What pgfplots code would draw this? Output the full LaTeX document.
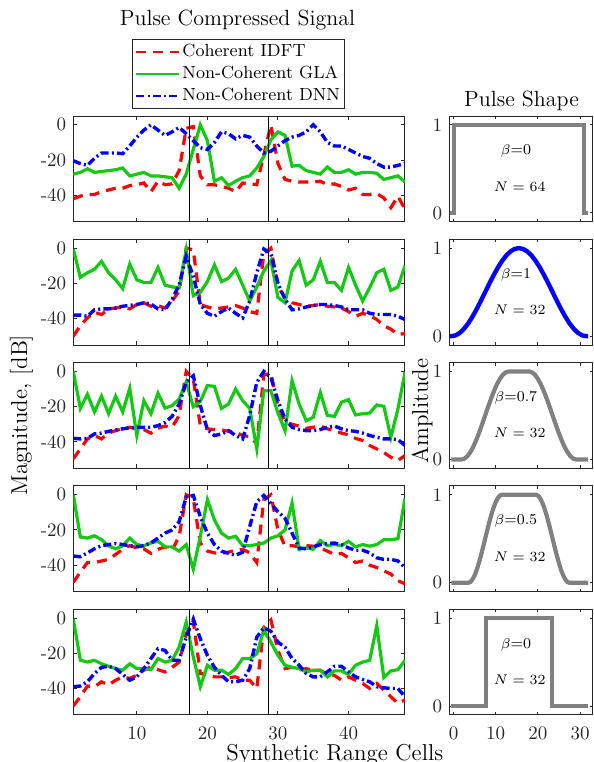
\documentclass[border=0pt]{standalone}
\usepackage{pgfplots}
\usepackage{pgfplotstable}
\pgfplotsset{compat=1.18}
\definecolor{mred}{RGB}{255,0,0}
\definecolor{mgreen}{RGB}{20,200,20}
\definecolor{mblue}{RGB}{0,0,255}
\definecolor{mgray}{RGB}{128,128,128}
\definecolor{axgray}{RGB}{38,38,38}

% columns: cell, coherent IDFT, non-coherent GLA, non-coherent DNN (dB)
\pgfplotstableread{
n idft gla dnn
1 -42 -28 -20.4
2 -40.5 -27 -22
3 -39.5 -25 -23
4 -39.5 -27 -19
5 -38 -26.5 -16
6 -37 -26 -16
7 -36 -25.5 -16
8 -36 -24.5 -16.4
9 -34.5 -29 -12
10 -34 -28 -7
11 -33 -27 -3
12 -38 -29 0
13 -32 -29 -3
14 -34 -29.5 -6
15 -33.5 -30 -4
16 -26 -36 -1.5
17 -2 -28 -5
18 -1 -14 -9
19 -29 0 -13
20 -34 -9 -14
21 -34 -32 -10
22 -35 -30 -4
23 -36 -34.5 -5
24 -38 -32 -8
25 -33 -30 -6
26 -33.5 -29 -7
27 -34 -24.5 -12
28 -17 -18 -16
29 0 -8.5 -15
30 -22 -4 -12
31 -31 -6 -9
32 -32 -23.5 -7
33 -32.5 -23 -6
34 -32.5 -26 -4
35 -32.5 -27 0
36 -32 -28 -4
37 -34 -24 -10
38 -33.5 -27 -12
39 -35 -27 -12
40 -37 -25.5 -14
41 -36 -28 -16
42 -39.5 -27 -18
43 -39.5 -27 -19
44 -39 -27.5 -22
45 -41.5 -31 -24
46 -47 -30 -24
47 -40.5 -29 -23
48 -48 -32.5 -22
}\sigA

\pgfplotstableread{
n idft gla dnn
1 -50 -0.5 -38
2 -44 -16.6 -38
3 -39.6 -14 -38.7
4 -36.4 -12 -35
5 -37.7 -7.5 -34.5
6 -34.5 -14 -34.5
7 -34 -18 -34
8 -33.4 -23 -33
9 -34.5 -9 -32.5
10 -32 -18 -32
11 -31 -19.5 -31
12 -33 -19.5 -31.7
13 -32.6 -11 -34.5
14 -34 -21 -35
15 -30 -22 -29
16 -24.5 -22.5 -21
17 0 -1 -4.7
18 -1 -27 -16
19 -32 -25 -32
20 -33.4 -19 -37
21 -34.5 -9.5 -38.7
22 -34 -19 -36
23 -33.4 -17 -34
24 -32.6 -12 -37
25 -34 -21 -39.6
26 -36 -30 -30
27 -37 -22 -14
28 -3 -13 -0.5
29 0 -7 -3
30 -22 -28 -20
31 -28 -31 -29
32 -31 -13 -35
33 -32 -7 -34.5
34 -33 -21 -33.4
35 -32.6 -18 -32.6
36 -32 -7.5 -32
37 -33 -19.5 -32
38 -33.4 -19.5 -32.6
39 -34 -24 -33.4
40 -36 -11 -35
41 -38.7 -21 -35
42 -37 -30 -35
43 -38.3 -22.5 -37
44 -40.5 -14 -37.7
45 -44 -12 -37.7
46 -46 -24 -37.7
47 -49 -22 -38.7
48 -48.5 -10 -40.5
}\sigB

\pgfplotstableread{
n idft gla dnn
1 -49.6 0 -38
2 -44 -21 -38.3
3 -38.3 -13 -38
4 -36.4 -23 -35.5
5 -38.3 -14 -35
6 -35 -24 -34
7 -33.6 -14 -33.2
8 -32.6 -23 -32.6
9 -31.7 -9.6 -32
10 -32.6 -36.4 -31.7
11 -33 -16.6 -31.7
12 -35 -24 -31.7
13 -32.3 -12.3 -30.8
14 -31 -20.8 -29
15 -31.7 -19.4 -25.5
16 -25 -15.7 -18.5
17 0 -6 -6.2
18 -4.3 -20 -2.5
19 -30.8 -17 -19.4
20 -32.6 -8 -33
21 -33 -8.5 -36.4
22 -33.2 -21 -35.5
23 -34 -18.5 -33.6
24 -34.5 -10 -36.4
25 -36.4 -16.6 -38.3
26 -37 -21 -25
27 -41 -44 -6.2
28 -2 -11 0
29 -1 -11 -3.4
30 -20 -23.6 -16.6
31 -28.6 -33.6 -27
32 -30 -5.3 -31.7
33 -31 -18.5 -33
34 -32.3 -28 -33.6
35 -31.7 -26 -33.6
36 -31 -12 -33
37 -32.6 -25 -31.7
38 -33.6 -25.5 -31
39 -35 -17.5 -32.6
40 -36 -16 -33.6
41 -38 -24.7 -34
42 -39.2 -24 -35
43 -42 -23.6 -36.4
44 -44 -19 -37.4
45 -46 -19.8 -38.3
46 -48.7 -37.4 -38.3
47 -50.6 -21.3 -38.7
48 -47.7 -0.5 -42
}\sigC

\pgfplotstableread{
n idft gla dnn
1 -49.7 0 -34.8
2 -44 -24 -35.2
3 -38.5 -24.6 -33
4 -38.5 -23.3 -30.7
5 -37.6 -25.5 -28.9
6 -36.7 -29 -28.3
7 -33.9 -30.7 -27.7
8 -31 -29 -28.3
9 -28.9 -24.6 -28.9
10 -30.2 -28.3 -29.6
11 -30.7 -29 -28.9
12 -33.3 -27.4 -27.4
13 -31 -26.4 -24.6
14 -29.6 -29.6 -21.8
15 -31.5 -29.6 -20
16 -23.6 -32 -15.3
17 0 -28.3 -1.3
18 -2.2 -42.3 -0.4
19 -27.4 -23.6 -12.5
20 -32 -2.8 -21.8
21 -33 -14.3 -28.3
22 -33.3 -21.8 -32
23 -32.6 -24.6 -33.3
24 -31.5 -23.6 -34.4
25 -31 -28.9 -32.6
26 -33 -28.9 -18
27 -38.5 -28.3 -4
28 -2.8 -27.4 -0.4
29 0 -24.6 -5
30 -20 -23.3 -9.7
31 -29.2 -20 -13.4
32 -28.9 -4.7 -21.8
33 -29.6 -31 -30.2
34 -28.9 -30.2 -30.7
35 -29.2 -31 -29.6
36 -30.2 -26 -28.3
37 -32 -28.9 -27.7
38 -33.9 -28.3 -27.4
39 -33.3 -28.9 -28.3
40 -35.8 -26.4 -30.2
41 -38.5 -29.6 -31.5
42 -37.6 -28.3 -31.5
43 -40 -29.2 -33
44 -41.3 -28.3 -35.8
45 -43.2 -25.5 -36.7
46 -45 -25.5 -36.7
47 -48.8 -25 -37.6
48 -50.6 -2.2 -41.3
}\sigD

\pgfplotstableread{
n idft gla dnn
1 -49.9 -0.5 -39
2 -44.7 -24 -38.6
3 -38.6 -25 -36.2
4 -39 -24 -31.5
5 -36.2 -26 -28
6 -38 -27.4 -27.4
7 -35.3 -28.7 -28.7
8 -33.4 -29.6 -32
9 -34.3 -26 -35.3
10 -32.5 -28.7 -33.4
11 -29.6 -28.7 -28.7
12 -27.8 -29.3 -23
13 -29.3 -23 -17.4
14 -30.6 -25 -18.4
15 -28 -24 -24
16 -25 -16.5 -24
17 -9 -2.4 -10.9
18 -1.5 -22 -0.6
19 -31.5 -39 -11.8
20 -32 -26.8 -21.2
21 -33.4 -29.6 -28
22 -33.4 -29.6 -32.5
23 -33.8 -32 -36.2
24 -33.4 -28.7 -36.2
25 -35.3 -23 -35.3
26 -35.3 -23 -28.7
27 -40 -20.3 -10.9
28 -5.3 -6.8 -5.6
29 -1.1 -13.7 -7.5
30 -18.4 -21.2 -13.7
31 -28.7 -26.8 -16.5
32 -28 -28 -23
33 -29.6 -28.7 -26.8
34 -28.7 -30.6 -31.5
35 -30 -29.6 -33.4
36 -29.6 -29.6 -33.4
37 -32 -33.4 -30.6
38 -32.5 -30 -27.4
39 -35.3 -30 -27.4
40 -33.4 -32 -30.6
41 -35.3 -26.8 -33.4
42 -37.1 -25 -34.9
43 -40 -24 -36.2
44 -37.1 -4.3 -39
45 -40.9 -33.8 -39.6
46 -44.7 -30 -40
47 -48.4 -29.3 -40
48 -46.5 -24 -44.7
}\sigE

\pgfplotsset{
  sigax/.style={
    scale only axis, width=165.85pt, height=52.85pt,
    xmin=1, xmax=48, ymin=-55, ymax=5,
    xtick={10,20,30,40}, xticklabels={},
    ytick={-40,-20,0}, yticklabels={{-40},{-20},{0}},
    tick align=inside, major tick length=2pt,
    axis line style={axgray, line width=0.5pt},
    every tick/.style={axgray, line width=0.5pt},
    tick label style={font=\fontsize{9.5}{11}\selectfont, text=axgray},
    xticklabel style={yshift=-2.5pt},
  },
  shpax/.style={
    scale only axis, width=71.7pt, height=52.85pt,
    xmin=-1, xmax=33, ymin=-0.1, ymax=1.1,
    xtick={0,10,20,30}, xticklabels={},
    ytick={0,1}, yticklabels={0,1},
    tick align=inside, major tick length=1.5pt,
    axis line style={axgray, line width=0.5pt},
    every tick/.style={axgray, line width=0.5pt},
    tick label style={font=\fontsize{9.5}{11}\selectfont, text=axgray},
    xticklabel style={yshift=-2.5pt},
  },
  idft/.style={mred, line width=1.6pt, dash pattern=on 5pt off 3.5pt},
  gla/.style={mgreen, line width=1.6pt},
  dnn/.style={mblue, line width=1.7pt, dash pattern=on 4pt off 1.6pt on 1pt off 1.6pt},
  cut/.style={black, line width=0.5pt, forget plot},
  pulse/.style={mgray, line width=2.1pt},
}
\newcommand{\ann}[2]{%
  \node[font=\fontsize{7.5}{9}\selectfont] at (axis cs:14.8,0.7) {$\beta$=#1};
  \node[font=\fontsize{7.5}{9}\selectfont] at (axis cs:15.7,0.3) {$N = #2$};}

\begin{document}
\begin{tikzpicture}
\useasboundingbox (0,0) rectangle (297pt,-381pt);

\node[anchor=base, font=\fontsize{11}{13}\selectfont] at (118.75pt,-12.5pt) {Pulse Compressed Signal};
\node[anchor=base, font=\fontsize{11}{13}\selectfont] at (260.75pt,-53pt) {Pulse Shape};
\node[anchor=base, rotate=90, font=\fontsize{11.5}{13}\selectfont] at (13.5pt,-207.5pt) {Magnitude, [dB]};
\node[anchor=base, rotate=90, font=\fontsize{11.5}{13}\selectfont] at (214pt,-205.5pt) {Amplitude};
\node[anchor=base, font=\fontsize{11.5}{13}\selectfont] at (167.35pt,-380pt) {Synthetic Range Cells};

% ---- pulse compressed signals ----
\begin{axis}[sigax, at={(36.65pt,-58pt)}, anchor=north west,
  legend style={at={(0.4985,1.063)}, anchor=south, draw=axgray, line width=0.5pt,
    fill=white, font=\fontsize{8.8}{10}\selectfont, inner xsep=1.3pt, inner ysep=1pt,
    row sep=0.2pt, nodes={inner sep=1pt, text height=6.6pt, text depth=2.2pt},
    cells={anchor=west}},
  legend image code/.code={\draw[#1, line width=1.1pt] (0pt,0pt) -- (21.5pt,0pt);}]
\addplot[idft] table[x=n, y=idft] {\sigA};
\addplot[gla] table[x=n, y=gla] {\sigA};
\addplot[dnn] table[x=n, y=dnn] {\sigA};
\addplot[cut] coordinates {(17.45,-55) (17.45,5)};
\addplot[cut] coordinates {(28.65,-55) (28.65,5)};
\legend{Coherent IDFT, Non-Coherent GLA, Non-Coherent DNN}
\end{axis}

\begin{axis}[sigax, at={(36.65pt,-119.65pt)}, anchor=north west]
\addplot[idft] table[x=n, y=idft] {\sigB};
\addplot[gla] table[x=n, y=gla] {\sigB};
\addplot[dnn] table[x=n, y=dnn] {\sigB};
\addplot[cut] coordinates {(17.45,-55) (17.45,5)};
\addplot[cut] coordinates {(28.65,-55) (28.65,5)};
\end{axis}

\begin{axis}[sigax, at={(36.65pt,-181.3pt)}, anchor=north west]
\addplot[idft] table[x=n, y=idft] {\sigC};
\addplot[gla] table[x=n, y=gla] {\sigC};
\addplot[dnn] table[x=n, y=dnn] {\sigC};
\addplot[cut] coordinates {(17.45,-55) (17.45,5)};
\addplot[cut] coordinates {(28.65,-55) (28.65,5)};
\end{axis}

\begin{axis}[sigax, at={(36.65pt,-242.95pt)}, anchor=north west]
\addplot[idft] table[x=n, y=idft] {\sigD};
\addplot[gla] table[x=n, y=gla] {\sigD};
\addplot[dnn] table[x=n, y=dnn] {\sigD};
\addplot[cut] coordinates {(17.45,-55) (17.45,5)};
\addplot[cut] coordinates {(28.65,-55) (28.65,5)};
\end{axis}

\begin{axis}[sigax, at={(36.65pt,-304.6pt)}, anchor=north west, xticklabels={10,20,30,40}]
\addplot[idft] table[x=n, y=idft] {\sigE};
\addplot[gla] table[x=n, y=gla] {\sigE};
\addplot[dnn] table[x=n, y=dnn] {\sigE};
\addplot[cut] coordinates {(17.45,-55) (17.45,5)};
\addplot[cut] coordinates {(28.65,-55) (28.65,5)};
\end{axis}

% ---- pulse shapes ----
\begin{axis}[shpax, at={(224.65pt,-58pt)}, anchor=north west]
\addplot[pulse] coordinates {(-0.8,0) (0.1,0) (0.1,1) (30.9,1) (30.9,0) (31.9,0)};
\ann{0}{64}
\end{axis}

\begin{axis}[shpax, at={(224.65pt,-119.65pt)}, anchor=north west]
\addplot[mblue, line width=2.2pt] coordinates {(-0.8,0) (-0.5,0) (0.5,0.0096) (1.5,0.0381) (2.5,0.0843) (3.5,0.1464) (4.5,0.2222) (5.5,0.3087) (6.5,0.4025) (7.5,0.5) (8.5,0.5975) (9.5,0.6913) (10.5,0.7778) (11.5,0.8536) (12.5,0.9157) (13.5,0.9619) (14.5,0.9904) (15.5,1) (16.5,0.9904) (17.5,0.9619) (18.5,0.9157) (19.5,0.8536) (20.5,0.7778) (21.5,0.6913) (22.5,0.5975) (23.5,0.5) (24.5,0.4025) (25.5,0.3087) (26.5,0.2222) (27.5,0.1464) (28.5,0.0843) (29.5,0.0381) (30.5,0.0096) (31.5,0) (31.9,0)};
\ann{1}{32}
\end{axis}

\begin{axis}[shpax, at={(224.65pt,-181.3pt)}, anchor=north west]
\addplot[pulse] coordinates {(-0.5,0) (1.9,0) (2.6,0.0096) (3.3,0.0381) (4.0,0.0843) (4.7,0.1464) (5.4,0.2222) (6.1,0.3087) (6.8,0.4025) (7.5,0.5) (8.2,0.5975) (8.9,0.6913) (9.6,0.7778) (10.3,0.8536) (11.0,0.9157) (11.7,0.9619) (12.4,0.9904) (13.1,1) (17.9,1) (18.6,0.9904) (19.3,0.9619) (20.0,0.9157) (20.7,0.8536) (21.4,0.7778) (22.1,0.6913) (22.8,0.5975) (23.5,0.5) (24.2,0.4025) (24.9,0.3087) (25.6,0.2222) (26.3,0.1464) (27.0,0.0843) (27.7,0.0381) (28.4,0.0096) (29.1,0) (31.9,0)};
\ann{0.7}{32}
\end{axis}

\begin{axis}[shpax, at={(224.65pt,-242.95pt)}, anchor=north west]
\addplot[pulse] coordinates {(-0.5,0) (3.5,0) (4,0.0096) (4.5,0.0381) (5,0.0843) (5.5,0.1464) (6,0.2222) (6.5,0.3087) (7,0.4025) (7.5,0.5) (8,0.5975) (8.5,0.6913) (9,0.7778) (9.5,0.8536) (10,0.9157) (10.5,0.9619) (11,0.9904) (11.5,1) (19.5,1) (20,0.9904) (20.5,0.9619) (21,0.9157) (21.5,0.8536) (22,0.7778) (22.5,0.6913) (23,0.5975) (23.5,0.5) (24,0.4025) (24.5,0.3087) (25,0.2222) (25.5,0.1464) (26,0.0843) (26.5,0.0381) (27,0.0096) (27.5,0) (31.9,0)};
\ann{0.5}{32}
\end{axis}

\begin{axis}[shpax, at={(224.65pt,-304.6pt)}, anchor=north west, xticklabels={0,10,20,30}]
\addplot[pulse] coordinates {(-0.5,0) (7.7,0) (7.7,1) (23.3,1) (23.3,0) (31.9,0)};
\ann{0}{32}
\end{axis}
\end{tikzpicture}
\end{document}
